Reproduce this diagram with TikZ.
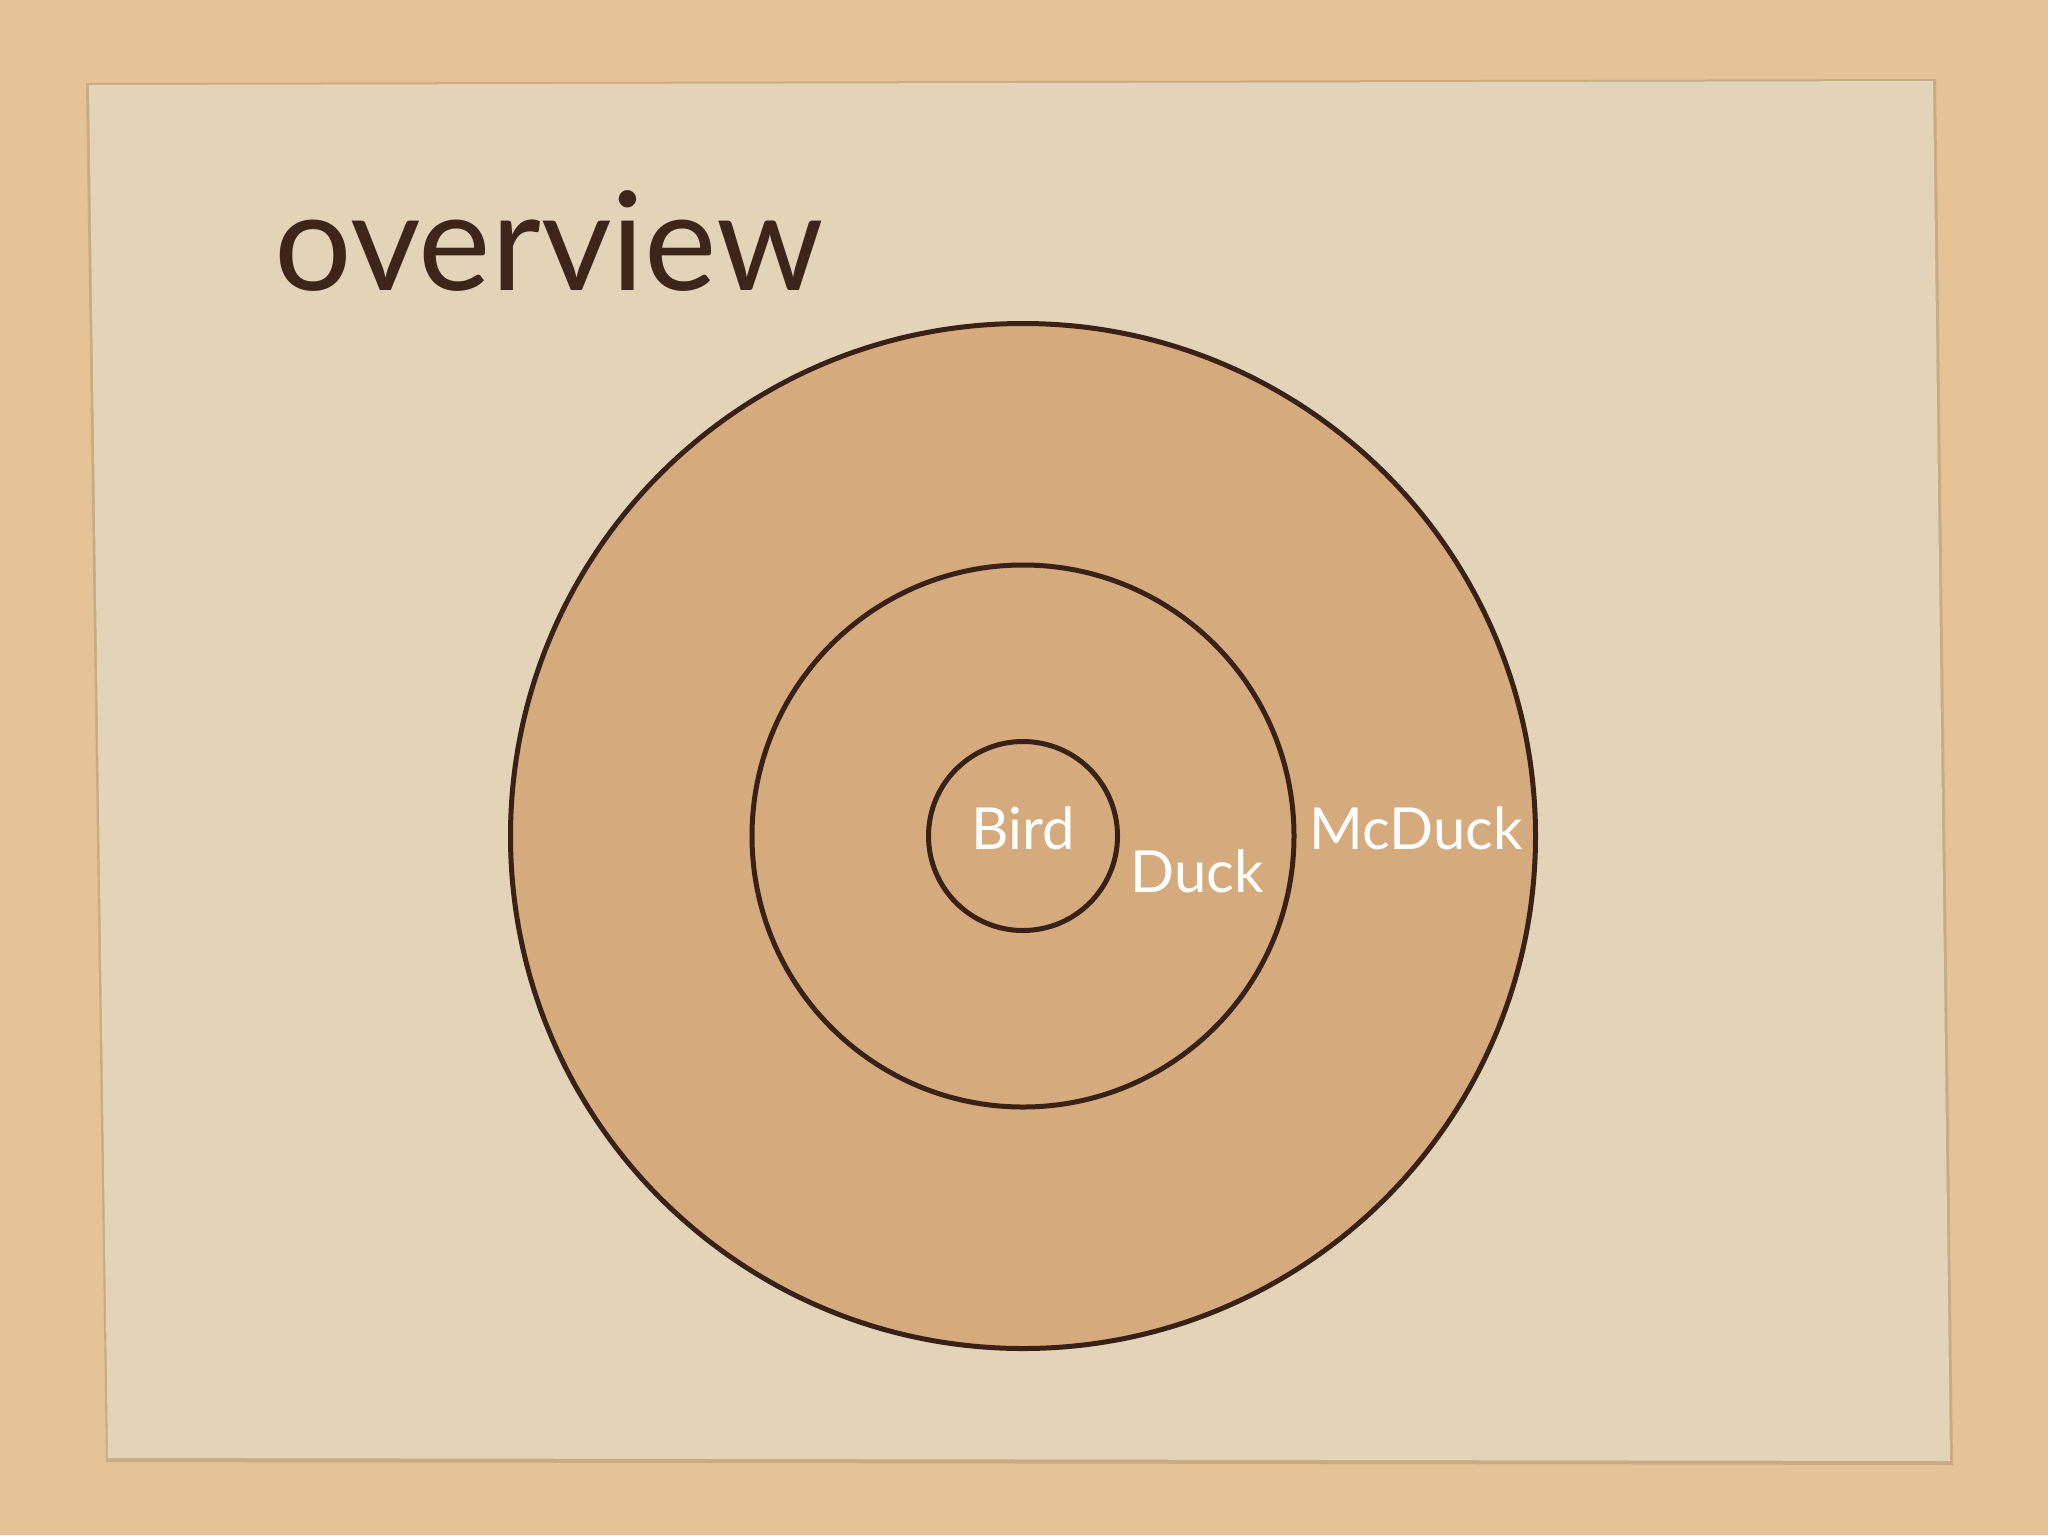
\documentclass[tikz,border=0pt]{standalone}
\usepackage{fontspec}
\setmainfont{Lato}
\definecolor{cork}{RGB}{229,195,150}
\definecolor{paper}{RGB}{227,212,185}
\definecolor{ringfill}{RGB}{213,170,124}
\definecolor{ink}{RGB}{58,33,22}
\definecolor{titleink}{RGB}{60,38,26}
\tikzset{
  ring/.style={draw=ink, line width=5pt, fill=ringfill},
  lbl/.style={text=white, font=\fontsize{58}{60}\selectfont, anchor=base, inner sep=0pt},
}
\begin{document}
\begin{tikzpicture}[x=1pt,y=-1pt]
\useasboundingbox (0,0) rectangle (2048,1535);
\fill[cork] (0,0) rectangle (2048,1535);
% paper sheet
\fill[black!30!cork, opacity=0.4] (86,83) -- (1936,79) -- (1953,1465) -- (106,1462) -- cycle;
\fill[paper] (89,85) -- (1933,81) -- (1950,1461) -- (108,1458) -- cycle;
\node[anchor=base west, inner sep=0pt, text=titleink, font=\fontsize{137}{139}\selectfont] (title) at (274,290) {overview};
% rings
\node[ring, circle, minimum size=1025pt, inner sep=0pt] (outer) at (1023,836) {};
\node[ring, circle, minimum size=542pt, inner sep=0pt] (middle) at (1023,836) {};
\node[ring, circle, minimum size=189pt, inner sep=0pt] (inner) at (1023,836) {};
% labels
\node[lbl] (bird) at (1023,849) {Bird};
\node[lbl] (duck) at (1197,892) {Duck};
\node[lbl] (mcduck) at (1416,849) {McDuck};
\end{tikzpicture}
\end{document}
